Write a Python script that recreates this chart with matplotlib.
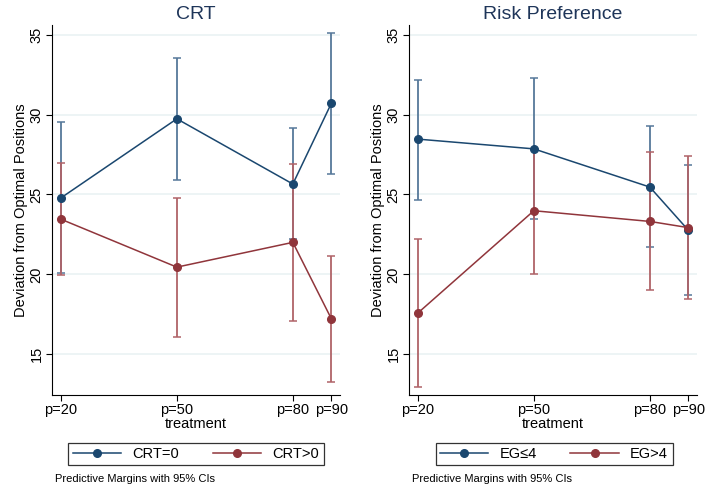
import numpy as np
import matplotlib.pyplot as plt
from matplotlib.lines import Line2D

plt.rcParams['font.family'] = ['Liberation Sans', 'DejaVu Sans']

# treatments
treat = [20, 50, 80, 90]
tick_labels = ["p=20", "p=50", "p=80", "p=90"]

# CRT panel
crt0 = [24.78, 29.73, 25.65, 30.72]
crt0_lo = [20.08, 25.88, 22.22, 26.3]
crt0_hi = [29.52, 33.55, 29.17, 35.1]
crt1 = [23.45, 20.45, 22.0, 17.2]
crt1_lo = [19.94, 16.1, 17.1, 13.27]
crt1_hi = [26.96, 24.8, 26.9, 21.17]

# risk preference panel
eg0 = [28.46, 27.85, 25.46, 22.75]
eg0_lo = [24.64, 23.44, 21.72, 18.69]
eg0_hi = [32.19, 32.29, 29.27, 26.83]
eg1 = [17.58, 23.98, 23.31, 22.92]
eg1_lo = [12.96, 20.04, 19.0, 18.44]
eg1_hi = [22.2, 27.85, 27.64, 27.4]

panels = [
    ("CRT", (crt0, crt0_lo, crt0_hi), (crt1, crt1_lo, crt1_hi), ["CRT=0", "CRT>0"]),
    ("Risk Preference", (eg0, eg0_lo, eg0_hi), (eg1, eg1_lo, eg1_hi), ["EG\u22644", "EG>4"]),
]

blue = "#1a476f"
red = "#90353b"
blue_ci = "#56789a"
red_ci = "#b06368"

fig = plt.figure(figsize=(7.05, 4.88), dpi=100)
lefts = [52 / 705, 409 / 705]
leg_x = [196 / 705, 554 / 705]

for k, (title, s0, s1, labels) in enumerate(panels):
    ax = fig.add_axes([lefts[k], 1 - 395 / 488, 288 / 705, 370 / 488])
    for (m, lo, hi), c in [(s0, blue_ci), (s1, red_ci)]:
        m = np.array(m)
        err = [m - np.array(lo), np.array(hi) - m]
        ax.errorbar(treat, m, yerr=err, fmt='none', ecolor=c, elinewidth=1.3,
                    capsize=3, capthick=1.1, zorder=2)
    ax.plot(treat, s0[0], color=blue, lw=1.1, marker='o', ms=5.5, zorder=3)
    ax.plot(treat, s1[0], color=red, lw=1.1, marker='o', ms=5.5, zorder=3)

    ax.set_xlim(17.7, 92.2)
    ax.set_ylim(12.45, 35.6)
    ax.set_yticks([15, 20, 25, 30, 35])
    ax.set_xticks(treat)
    ax.set_xticklabels(tick_labels, fontsize=10.5)
    for t in ax.get_yticklabels():
        t.set_rotation(90)
        t.set_va('center')
        t.set_fontsize(10.5)
    ax.yaxis.grid(True, color="#eaf2f3", lw=1.2)
    ax.set_axisbelow(True)
    for s in ['top', 'right']:
        ax.spines[s].set_visible(False)
    ax.tick_params(length=4, width=0.8, pad=2)
    ax.set_title(title, fontsize=14, color="#1e3559", pad=4)
    ax.set_xlabel("treatment", fontsize=10.5, labelpad=0)
    ax.set_ylabel("Deviation from Optimal Positions", fontsize=10.5, labelpad=1)

    handles = [Line2D([0], [0], color=blue, lw=1.1, marker='o', ms=5.5),
               Line2D([0], [0], color=red, lw=1.1, marker='o', ms=5.5)]
    fig.legend(handles, labels, loc='center', bbox_to_anchor=(leg_x[k], 1 - 454 / 488),
               ncol=2, fontsize=10.5, frameon=True, fancybox=False, edgecolor='black',
               handlelength=3.3, columnspacing=2.3, borderpad=0.3).get_frame().set_linewidth(0.9)
    fig.text(lefts[k] + 3 / 705, 1 - 479 / 488, "Predictive Margins with 95% CIs",
             fontsize=8, va='center')

fig.savefig("out.png", dpi=100)
